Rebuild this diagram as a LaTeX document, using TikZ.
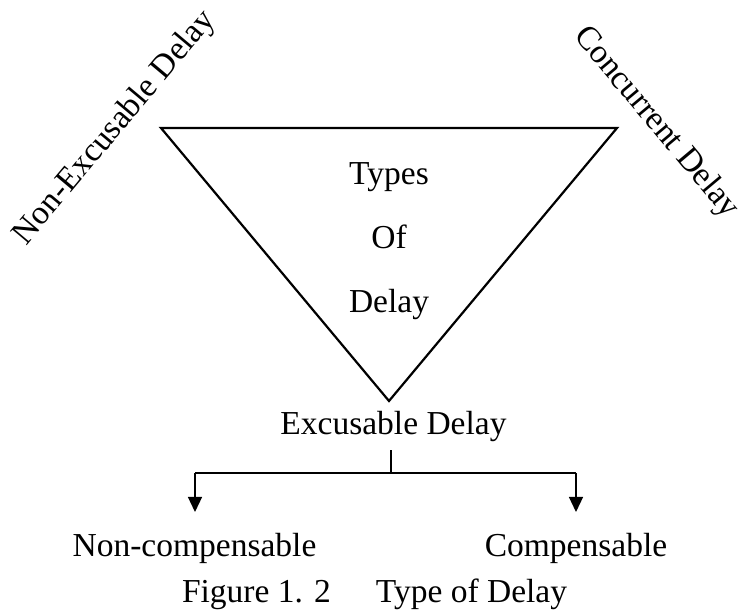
\documentclass[tikz,border=0pt]{standalone}
\usepackage{fontspec}
\setmainfont{Liberation Serif}
\usetikzlibrary{arrows.meta}
\begin{document}
\begin{tikzpicture}[x=1pt,y=1pt,
  lbl/.style={inner sep=0pt, font=\fontsize{33.5}{40}\selectfont, anchor=base},
  rlbl/.style={inner sep=0pt, font=\fontsize{33.5}{40}\selectfont},
  tri/.style={line width=2.2pt, line join=miter},
  conn/.style={line width=1.3pt},
  arr/.style={conn, -{Triangle[width=14pt,length=15pt]}}]
\useasboundingbox (0,0) rectangle (740,612);
% triangle
\coordinate (tl) at (161,484);
\coordinate (tr) at (617,484);
\coordinate (bt) at (389,211);
\draw[tri] (tl) -- (tr) -- (bt) -- cycle;
% inner text
\node[lbl] (types) at (389,427) {Types};
\node[lbl] (of) at (389,363) {Of};
\node[lbl] (delay) at (389,299) {Delay};
% rotated labels
\node[rlbl, rotate=50] (nonexc) at (115,484) {Non-Excusable Delay};
\node[rlbl, rotate=-50] (conc) at (656,489) {Concurrent Delay};
% bottom tree
\node[lbl] (exc) at (393.5,177) {Excusable Delay};
\node[lbl] (noncomp) at (194.5,55) {Non-compensable};
\node[lbl] (comp) at (576,55) {Compensable};
\coordinate (j) at (391,139);
\coordinate (jl) at (195,139);
\coordinate (jr) at (576,139);
\coordinate (tipl) at (195,100);
\coordinate (tipr) at (576,100);
\draw[conn] ([yshift=-8pt]exc.south -| j) -- (j);
\draw[conn] (jl) -- (jr);
\draw[arr] (jl) -- (tipl);
\draw[arr] (jr) -- (tipr);
% caption
\node[lbl] (fig) at (256.5,9) {Figure 1. 2};
\node[lbl] (cap) at (471.5,9) {Type of Delay};
\end{tikzpicture}
\end{document}
